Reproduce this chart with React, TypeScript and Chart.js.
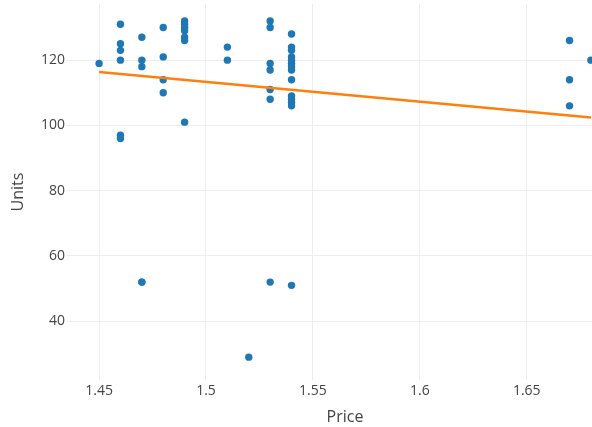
import { useEffect, useRef } from "react";
import { Chart, registerables } from "chart.js";

Chart.register(...registerables);

const priceX = [
  1.45,
  1.46, 1.46, 1.46, 1.46, 1.46, 1.46,
  1.47, 1.47, 1.47, 1.47, 1.47,
  1.48, 1.48, 1.48, 1.48,
  1.49, 1.49, 1.49, 1.49, 1.49, 1.49, 1.49,
  1.51, 1.51,
  1.52,
  1.53, 1.53, 1.53, 1.53, 1.53, 1.53, 1.53,
  1.54, 1.54, 1.54, 1.54, 1.54, 1.54, 1.54, 1.54, 1.54, 1.54, 1.54, 1.54, 1.54, 1.54,
  1.67, 1.67, 1.67,
  1.68,
];
const unitsY = [
  119,
  131, 125, 123, 120, 97, 96,
  127, 120, 118, 52, 52,
  130, 121, 114, 110,
  132, 131, 130, 129, 127, 126, 101,
  124, 120,
  29,
  132, 130, 119, 117, 111, 108, 52,
  128, 124, 123, 121, 120, 119, 118, 117, 114, 109, 108, 107, 106, 51,
  126, 114, 106,
  120,
];
const trendX = [1.45, 1.68];
const trendY = [116.4, 102.4];
const xTicks = [1.45, 1.5, 1.55, 1.6, 1.65];
const yTicks = [40, 60, 80, 100, 120];
const xRange = [1.435, 1.695];
const yRange = [22, 137.2];

const FONT = "'Open Sans', 'Noto Sans', sans-serif";
const TEXT = "#444";
const GRID = "#eeeeee";

export default function App() {
  const ref = useRef<HTMLCanvasElement>(null);
  useEffect(() => {
    document.body.style.margin = "0";
    const chart = new Chart(ref.current!, {
      type: "scatter",
      data: {
        datasets: [
          {
            data: trendX.map((x, i) => ({ x, y: trendY[i] })),
            showLine: true,
            borderColor: "#ff7f0e",
            borderWidth: 2.5,
            pointRadius: 0,
            order: 0,
          },
          {
            data: priceX.map((x, i) => ({ x, y: unitsY[i] })),
            backgroundColor: "#1f77b4",
            borderWidth: 0,
            pointRadius: 3.7,
            order: 1,
          },
        ],
      },
      options: {
        responsive: false,
        animation: false,
        devicePixelRatio: 1,
        layout: { padding: { top: -3, left: 0, right: 0, bottom: 0 } },
        plugins: { legend: { display: false }, tooltip: { enabled: false } },
        scales: {
          x: {
            type: "linear",
            min: xRange[0],
            max: xRange[1],
            afterBuildTicks: (s: any) => {
              s.ticks = xTicks.map((v) => ({ value: v }));
            },
            afterFit: (s: any) => {
              s.height = 47;
              s.paddingLeft = 0;
              s.paddingRight = 0;
            },
            grid: { color: GRID, drawTicks: false, lineWidth: 1 },
            border: { display: false },
            ticks: {
              font: { family: FONT, size: 14 },
              color: TEXT,
              padding: 3,
              maxRotation: 0,
              callback: (v: any) => String(v),
            },
            title: {
              display: true,
              text: "Price",
              font: { family: FONT, size: 16 },
              color: TEXT,
              padding: { top: 0, bottom: 0 },
            },
          },
          y: {
            type: "linear",
            min: yRange[0],
            max: yRange[1],
            afterBuildTicks: (s: any) => {
              s.ticks = yTicks.map((v) => ({ value: v }));
            },
            afterFit: (s: any) => {
              s.width = 67;
              s.paddingTop = 0;
              s.paddingBottom = 0;
            },
            grid: { color: GRID, drawTicks: false, lineWidth: 1 },
            border: { display: false },
            ticks: {
              font: { family: FONT, size: 14 },
              color: TEXT,
              padding: 2,
              callback: (v: any) => String(v),
            },
            title: {
              display: true,
              text: "Units",
              font: { family: FONT, size: 16 },
              color: TEXT,
              padding: { top: 8.4, bottom: 0 },
            },
          },
        },
      },
    });
    return () => chart.destroy();
  }, []);
  return (
    <div
      style={{
        position: "absolute",
        left: 0,
        top: 0,
        width: 592,
        height: 427,
        overflow: "hidden",
        background: "#fff",
      }}
    >
      <canvas
        ref={ref}
        width={627}
        height={427}
        style={{ width: 627, height: 427, display: "block" }}
      />
    </div>
  );
}
